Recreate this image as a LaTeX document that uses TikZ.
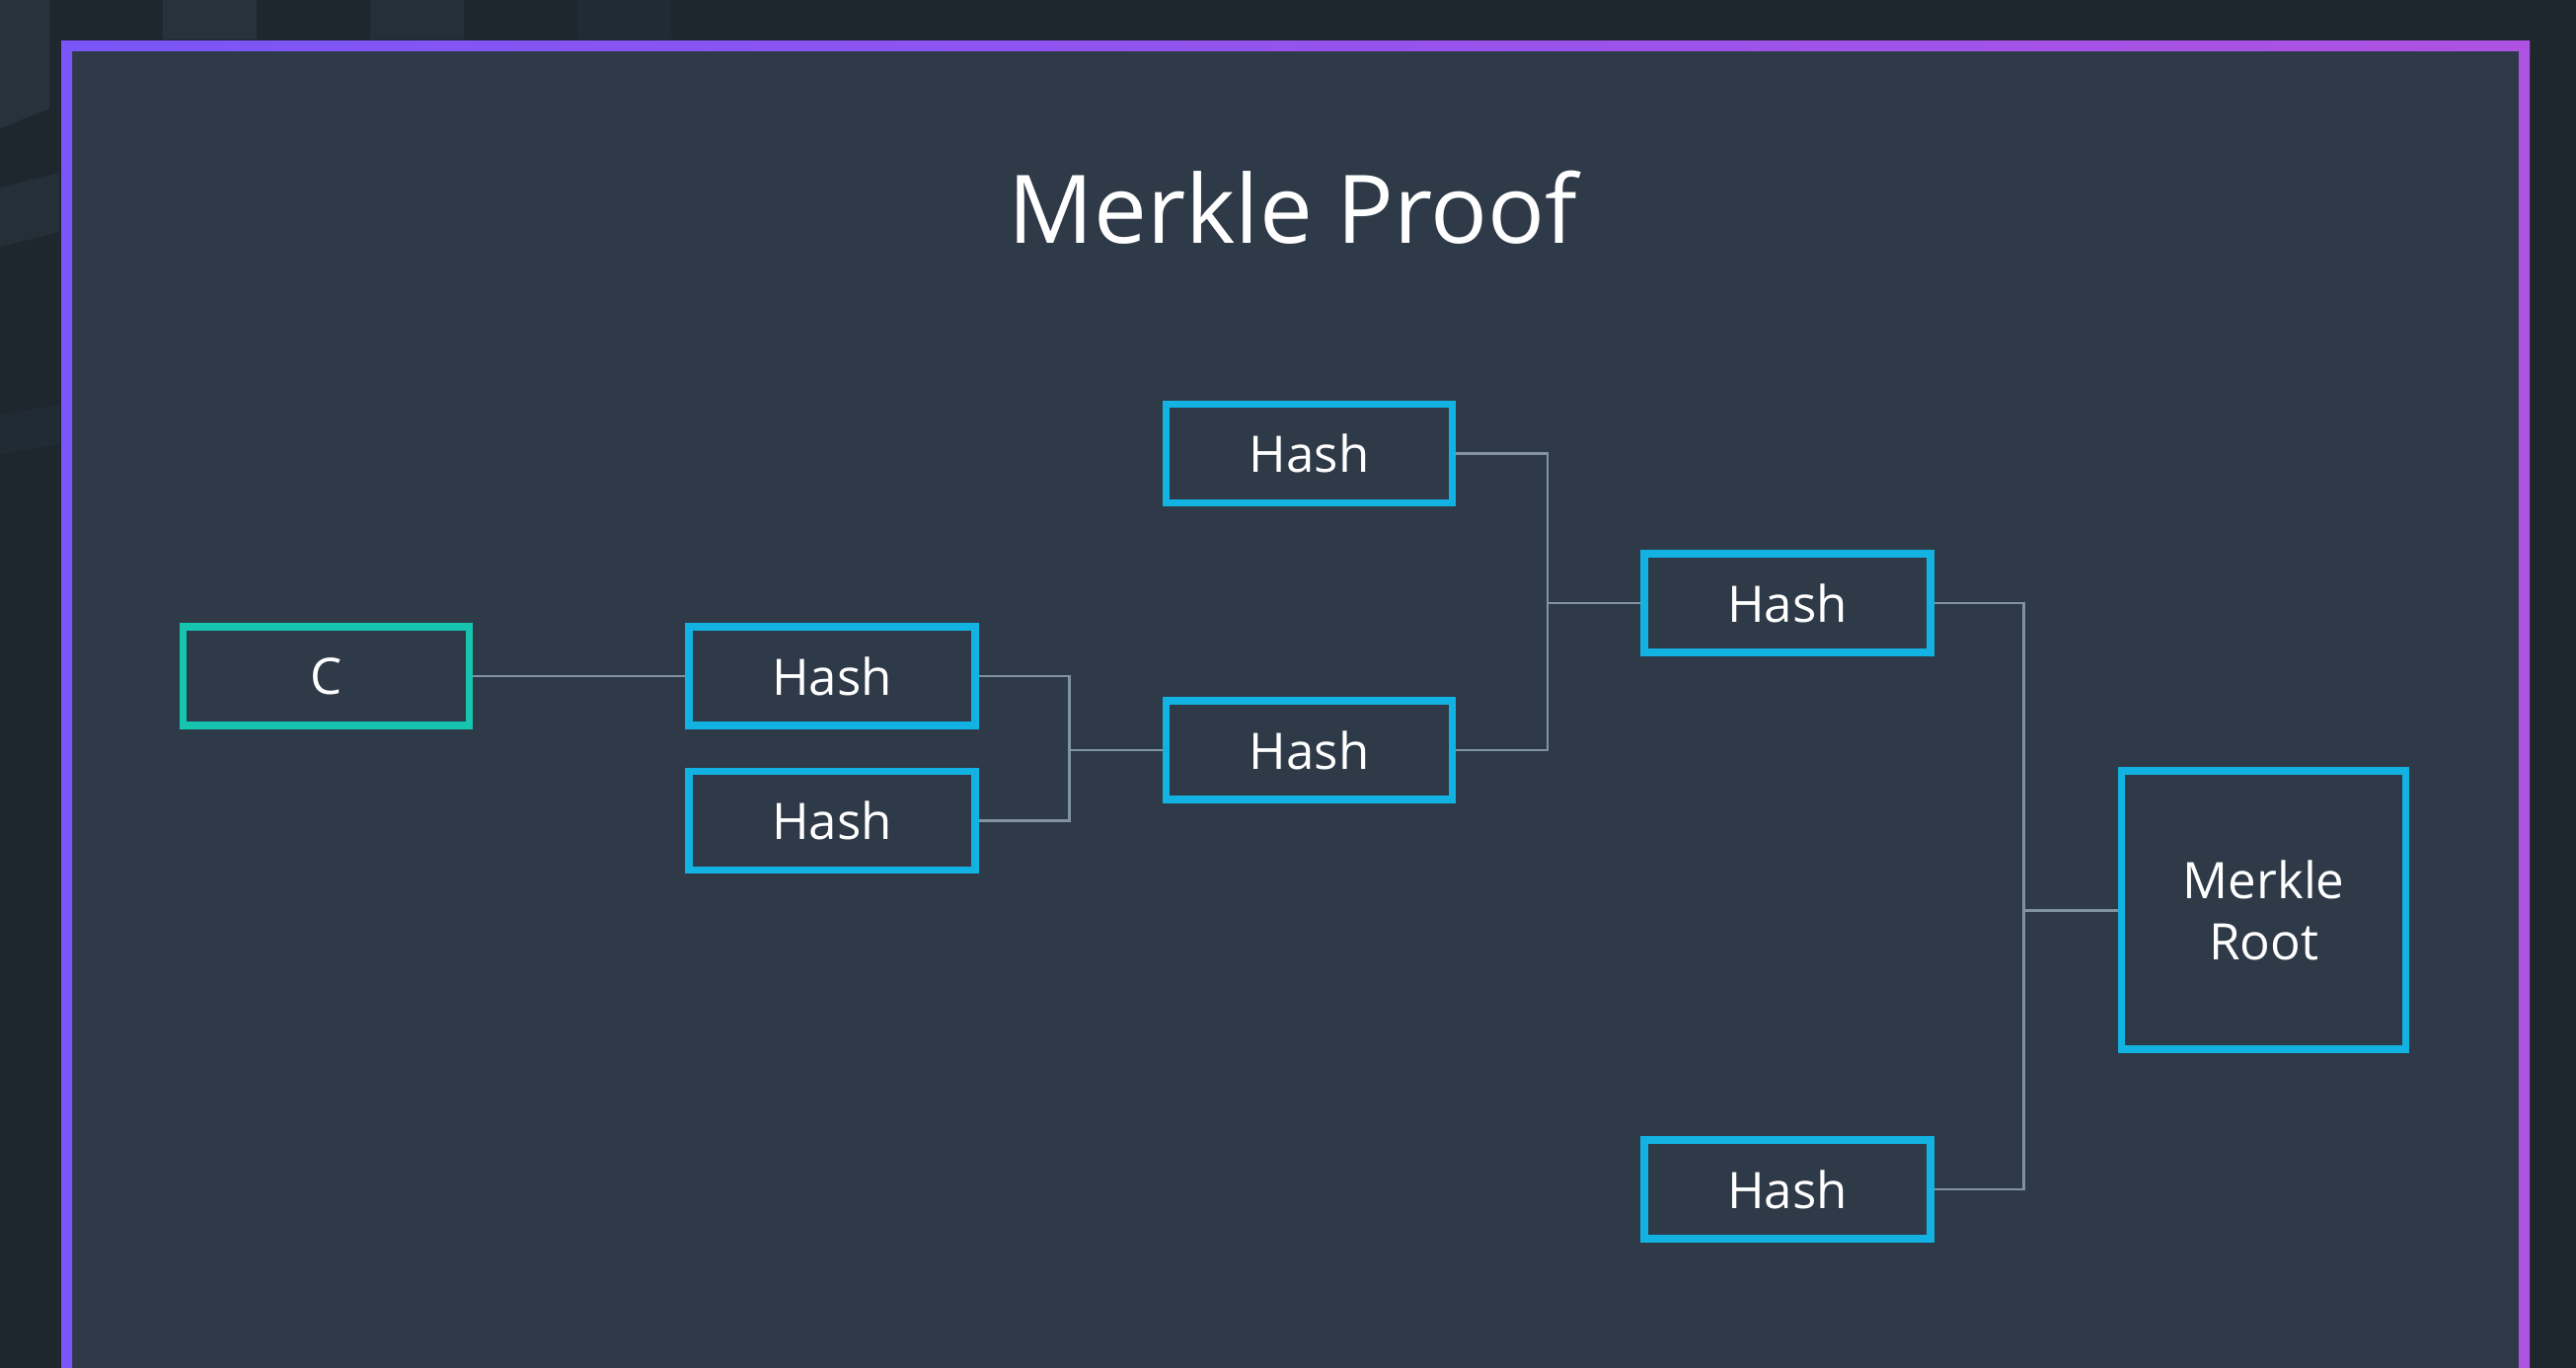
\documentclass[tikz,border=0pt]{standalone}
\usepackage{fontspec}
\setmainfont{Open Sans}
\definecolor{outerbg}{HTML}{1E272E}
\definecolor{outerlight}{HTML}{2B3740}
\definecolor{innerbg}{HTML}{2E3A47}
\definecolor{frameL}{HTML}{7A55F7}
\definecolor{frameR}{HTML}{AE52E2}
\definecolor{hashblue}{HTML}{12B3E3}
\definecolor{leafteal}{HTML}{17C4B0}
\definecolor{wire}{HTML}{8193A3}
\tikzset{
  hashbox/.style={draw=hashblue, line width=7.5pt, rectangle, minimum width=290pt, minimum height=100pt,
    inner sep=0pt, text=white, font=\fontsize{51}{62}\selectfont},
  leafbox/.style={hashbox, draw=leafteal},
  rootbox/.style={hashbox, minimum width=288pt, minimum height=282pt, align=center},
  wireline/.style={draw=wire, line width=2.8pt}
}
\begin{document}
\begin{tikzpicture}[x=1pt,y=-1pt]
\useasboundingbox (0,0) rectangle (2610,1386);
% outer background
\fill[outerbg] (0,0) rectangle (2610,1386);
\fill[outerlight, opacity=0.7] (0,0) -- (50,0) -- (50,110) -- (0,130) -- cycle;
\fill[outerlight, opacity=0.5] (0,190) -- (60,175) -- (60,235) -- (0,250) -- cycle;
\fill[outerlight, opacity=0.3] (0,420) -- (60,410) -- (60,450) -- (0,460) -- cycle;
\fill[outerlight, opacity=0.7] (165,0) -- (260,0) -- (260,40) -- (165,40) -- cycle;
\fill[outerlight, opacity=0.5] (375,0) -- (470,0) -- (470,40) -- (375,40) -- cycle;
\fill[outerlight, opacity=0.3] (585,0) -- (680,0) -- (680,40) -- (585,40) -- cycle;
% inner panel
\fill[innerbg] (68,47) rectangle (2557,1386);
% gradient frame
\shade[left color=frameL, right color=frameR] (62,42) rectangle (2563,52);
\shade[left color=frameL, right color=frameL] (62,42) rectangle (73,1386);
\shade[left color=frameR, right color=frameR] (2552,42) rectangle (2563,1386);
% title
\node[anchor=base, text=white, font=\fontsize{96}{116}\selectfont] (title) at (1310,246) {Merkle Proof};
% nodes
\node[leafbox] (C) at (330.4,685) {C};
\node[hashbox] (h1) at (843,685) {Hash};
\node[hashbox] (h2) at (843,831.4) {Hash};
\node[hashbox] (h3) at (1326.6,759.9) {Hash};
\node[hashbox] (h4) at (1326.6,459.4) {Hash};
\node[hashbox] (h5) at (1811,610.9) {Hash};
\node[hashbox] (h6) at (1811,1205) {Hash};
\node[rootbox] (root) at (2293.7,922.1) {Merkle\\Root};
% junctions
\coordinate (j1) at (1083.6,759.9);
\coordinate (j2) at (1568,610.9);
\coordinate (j3) at (2050.7,922.1);
% connectors
\draw[wireline] (C.east) -- (h1.west);
\draw[wireline] (h1.east) -| (j1) |- (h2.east);
\draw[wireline] (j1) -- (h3.west);
\draw[wireline] (h4.east) -| (j2) |- (h3.east);
\draw[wireline] (j2) -- (h5.west);
\draw[wireline] (h5.east) -| (j3) |- (h6.east);
\draw[wireline] (j3) -- (root.west);
\end{tikzpicture}
\end{document}
